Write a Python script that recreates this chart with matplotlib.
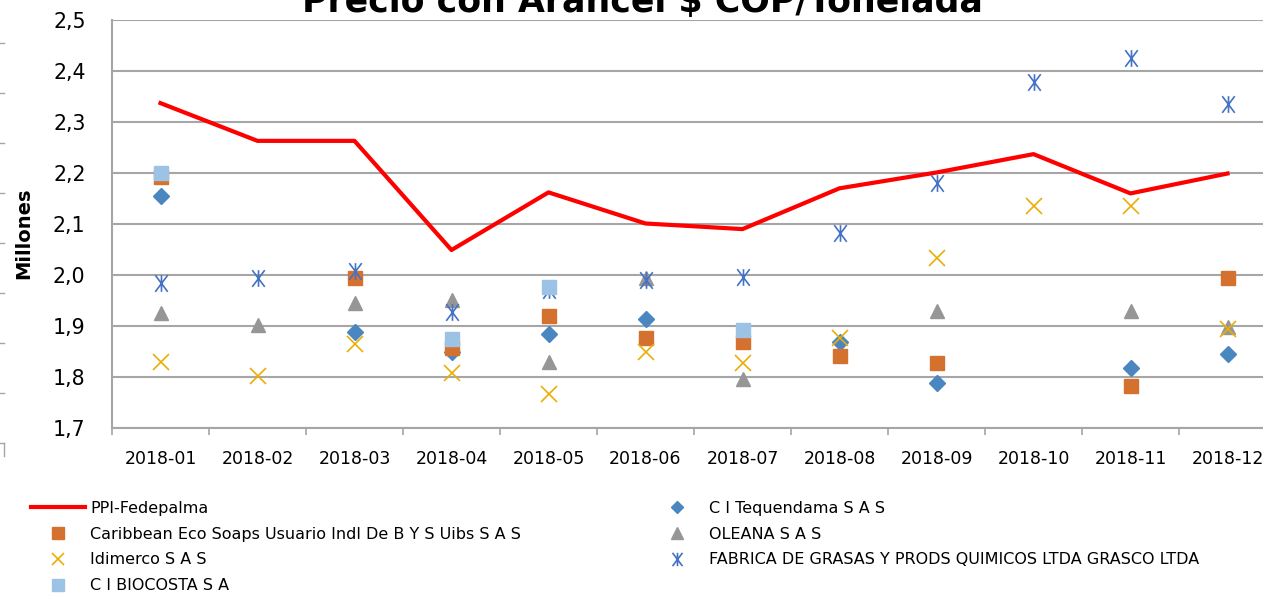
import matplotlib

matplotlib.use("Agg")
import matplotlib.pyplot as plt
import numpy as np
from matplotlib.lines import Line2D
from matplotlib.path import Path

nan = np.nan

months = ["2018-01", "2018-02", "2018-03", "2018-04", "2018-05", "2018-06",
          "2018-07", "2018-08", "2018-09", "2018-10", "2018-11", "2018-12"]

# millones de COP por tonelada
ppi_fedepalma = [2.337, 2.263, 2.263, 2.049, 2.162, 2.101, 2.090, 2.170, 2.201, 2.237, 2.160, 2.199]
tequendama = [2.154, nan, 1.889, 1.850, 1.884, 1.913, nan, 1.869, 1.788, nan, 1.817, 1.845]
caribbean = [2.193, nan, 1.995, 1.856, 1.920, 1.877, 1.869, 1.842, 1.827, nan, 1.783, 1.995]
oleana = [1.925, 1.902, 1.946, 1.951, 1.830, 1.995, 1.797, nan, 1.929, nan, 1.929, 1.899]
idimerco = [1.830, 1.801, 1.864, 1.808, 1.766, 1.850, 1.827, 1.876, 2.034, 2.135, 2.136, 1.895]
grasco = [1.984, 1.994, 2.007, 1.928, 1.971, 1.990, 1.997, 2.082, 2.181, 2.378, 2.425, 2.335]
biocosta = [2.200, nan, nan, 1.875, 1.977, nan, 1.892, nan, nan, nan, nan, nan]

W, H = 1263, 595
FONT = "DejaVu Sans"
GRID = "#A6A6A6"

# asterisco estilo Excel: X + barra vertical
ASTERISK = Path(
    [(-0.75, -1), (0.75, 1), (-0.75, 1), (0.75, -1), (0, -1), (0, 1)],
    [Path.MOVETO, Path.LINETO, Path.MOVETO, Path.LINETO, Path.MOVETO, Path.LINETO],
)

plt.rcParams["font.family"] = FONT
fig = plt.figure(figsize=(W / 100, H / 100), dpi=100)
ax = fig.add_axes([112 / W, 1 - 428 / H, (1276 - 112) / W, (428 - 20) / H])

x = np.arange(len(months))
h_ppi, = ax.plot(x, ppi_fedepalma, color="#FF0000", lw=3, zorder=3, label="PPI-Fedepalma")
h_teq, = ax.plot(x, tequendama, ls="none", marker="D", ms=8, color="#4A87C1", mec="#4A87C1",
                 zorder=4, label="C I Tequendama S A S")
h_car, = ax.plot(x, caribbean, ls="none", marker="s", ms=10, color="#D4712F", mec="#D4712F",
                 zorder=5, label="Caribbean Eco Soaps Usuario Indl De B Y S Uibs S A S")
h_ole, = ax.plot(x, oleana, ls="none", marker="^", ms=10, color="#969696", mec="#969696",
                 zorder=6, label="OLEANA S A S")
h_idi, = ax.plot(x, idimerco, ls="none", marker="x", ms=11, mew=1.2, color="#EAAE06",
                 zorder=7, label="Idimerco S A S")
h_gra, = ax.plot(x, grasco, ls="none", marker=ASTERISK, ms=12, mew=1.2, mfc="none",
                 color="#4472C4", zorder=8,
                 label="FABRICA DE GRASAS Y PRODS QUIMICOS LTDA GRASCO LTDA")
h_bio, = ax.plot(x, biocosta, ls="none", marker="s", ms=10, color="#9CC2E5", mec="#9CC2E5",
                 zorder=9, label="C I BIOCOSTA S A")

ax.set_xlim(-0.5, len(months) - 0.5)
ax.set_ylim(1.7, 2.5)
ax.set_yticks(np.arange(1.7, 2.51, 0.1))
ax.set_yticklabels([f"{v:.1f}".replace(".", ",") for v in np.arange(1.7, 2.51, 0.1)])
ax.set_xticks(x)
ax.set_xticklabels(months)
ax.set_xticks(np.arange(-0.5, len(months)), minor=True)
ax.tick_params(axis="x", which="major", length=0, pad=16, labelsize=12.5)
ax.tick_params(axis="x", which="minor", length=5, width=1.2, color=GRID)
ax.tick_params(axis="y", length=0, pad=19, labelsize=14.8)
ax.grid(axis="y", color=GRID, lw=1.5)
ax.set_axisbelow(True)
for side in ("top", "right"):
    ax.spines[side].set_visible(False)
for side in ("left", "bottom"):
    ax.spines[side].set_color(GRID)
    ax.spines[side].set_linewidth(1.5)

fig.text(642 / W, 1 - 12 / H, "Precio con Arancel $ COP/Tonelada", ha="center",
         va="baseline", fontsize=25, fontweight="bold")
fig.text(24 / W, 1 - 233 / H, "Millones", rotation=90, ha="center", va="center",
         fontsize=14, fontweight="bold")

leg_kw = dict(loc="upper left", frameon=False, fontsize=11.5, handlelength=3.4,
              handletextpad=0.3, labelspacing=0.67, borderpad=0, borderaxespad=0,
              markerscale=0.8)
fig.legend(handles=[h_ppi, h_car, h_idi, h_bio], bbox_to_anchor=(31 / W, 1 - 501 / H), **leg_kw)
fig.legend(handles=[h_teq, h_ole, h_gra], bbox_to_anchor=(650 / W, 1 - 501 / H), **leg_kw)

# restos del grafico vecino recortado en el borde izquierdo
for yp in range(43, 444, 50):
    fig.add_artist(Line2D([0, 4 / W], [1 - yp / H] * 2, color=GRID, lw=1))
fig.add_artist(Line2D([4 / W, 4 / W], [1 - 443 / H, 1 - 456 / H], color=GRID, lw=1))

fig.savefig("out.png", dpi=100)
